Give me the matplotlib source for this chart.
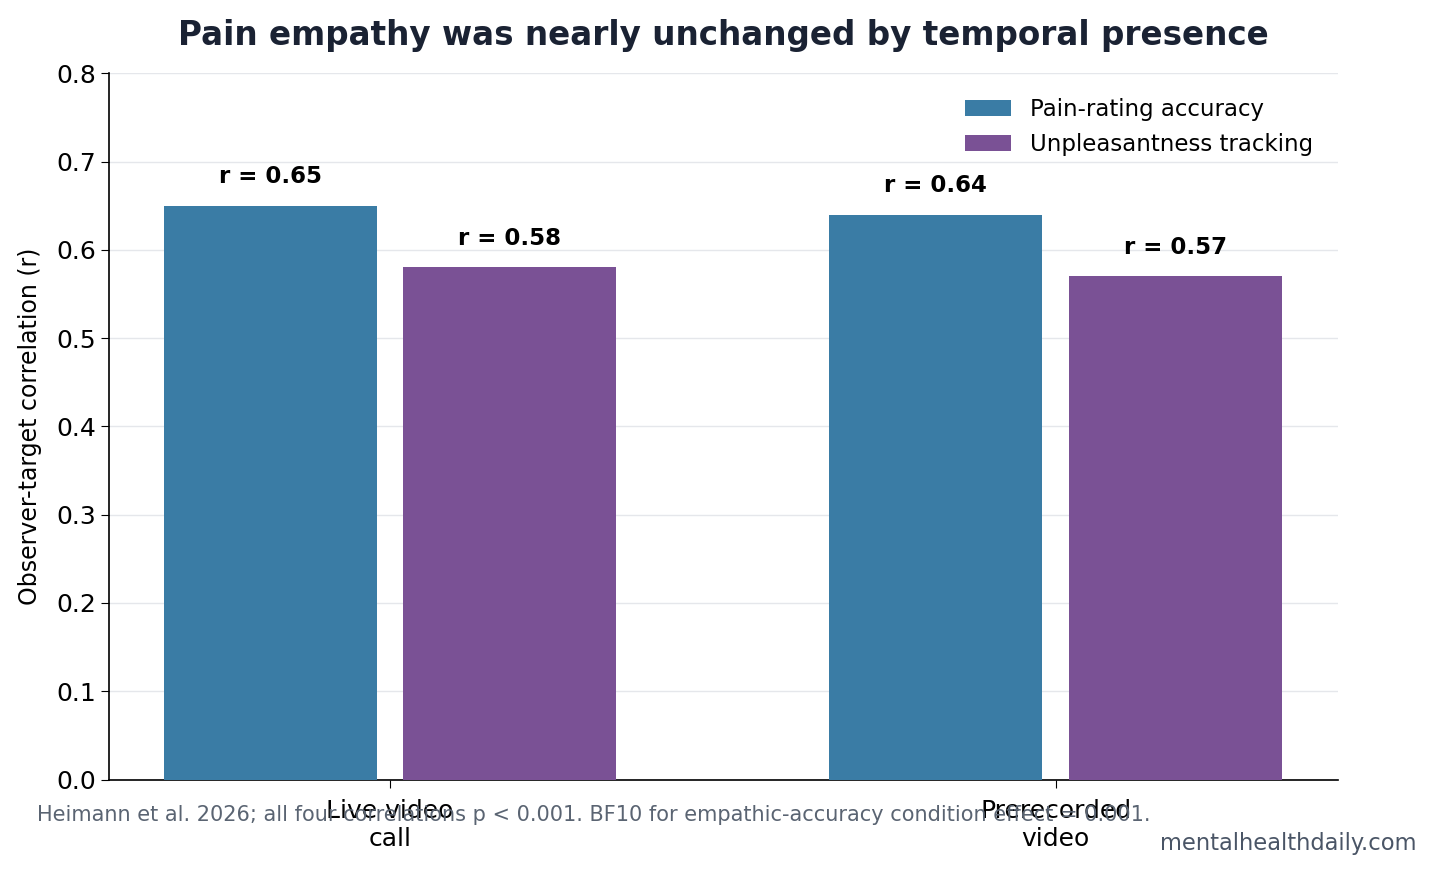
import numpy as np
import matplotlib
matplotlib.use("Agg")
import matplotlib.pyplot as plt

# donnees
conditions = ["Live video\ncall", "Prerecorded\nvideo"]
pain_accuracy = [0.65, 0.64]
unpleasantness = [0.58, 0.57]
series_names = ["Pain-rating accuracy", "Unpleasantness tracking"]
colors = ["#3a7ca5", "#7a5195"]

fig, ax = plt.subplots(figsize=(14.34, 8.72), dpi=100)
fig.subplots_adjust(left=0.076, right=0.933, top=0.916, bottom=0.106)

x = np.arange(len(conditions))
width = 0.32
offset = 0.18

for vals, name, col, off in zip([pain_accuracy, unpleasantness], series_names, colors, [-offset, offset]):
    bars = ax.bar(x + off, vals, width, color=col, label=name, zorder=3)
    for b, v in zip(bars, vals):
        ax.text(b.get_x() + b.get_width() / 2, v + 0.02, f"r = {v:.2f}",
                ha="center", va="bottom", fontsize=16.5, fontweight="bold", color="black")

ax.set_xlim(-0.422, 1.424)
ax.set_ylim(0, 0.8)
ax.set_yticks(np.arange(0, 0.81, 0.1))
ax.set_yticklabels([f"{t:.1f}" for t in np.arange(0, 0.81, 0.1)])
ax.set_xticks(x)
ax.set_xticklabels(conditions)
ax.tick_params(axis="both", labelsize=18, length=6)
ax.tick_params(axis="x", pad=8)
ax.set_ylabel("Observer-target correlation (r)", fontsize=17, labelpad=10)
ax.yaxis.grid(True, color="#e5e7eb", linewidth=1, zorder=0)
ax.set_axisbelow(True)
for s in ["top", "right"]:
    ax.spines[s].set_visible(False)
for s in ["left", "bottom"]:
    ax.spines[s].set_linewidth(1.2)

ax.set_title("Pain empathy was nearly unchanged by temporal presence",
             fontsize=23.5, fontweight="bold", color="#1a2233", pad=20)
ax.legend(frameon=False, fontsize=16.5, loc="upper right", handlelength=2.0,
          handleheight=0.7, borderaxespad=0.7)

fig.text(0.026, 0.065, "Heimann et al. 2026; all four correlations p < 0.001. BF10 for empathic-accuracy condition effect = 0.001.",
         fontsize=15, color="#5a6472", va="center")
fig.text(0.988, 0.033, "mentalhealthdaily.com", fontsize=16.3, color="#4a5566",
         ha="right", va="center")

plt.savefig("out.png", dpi=100)
